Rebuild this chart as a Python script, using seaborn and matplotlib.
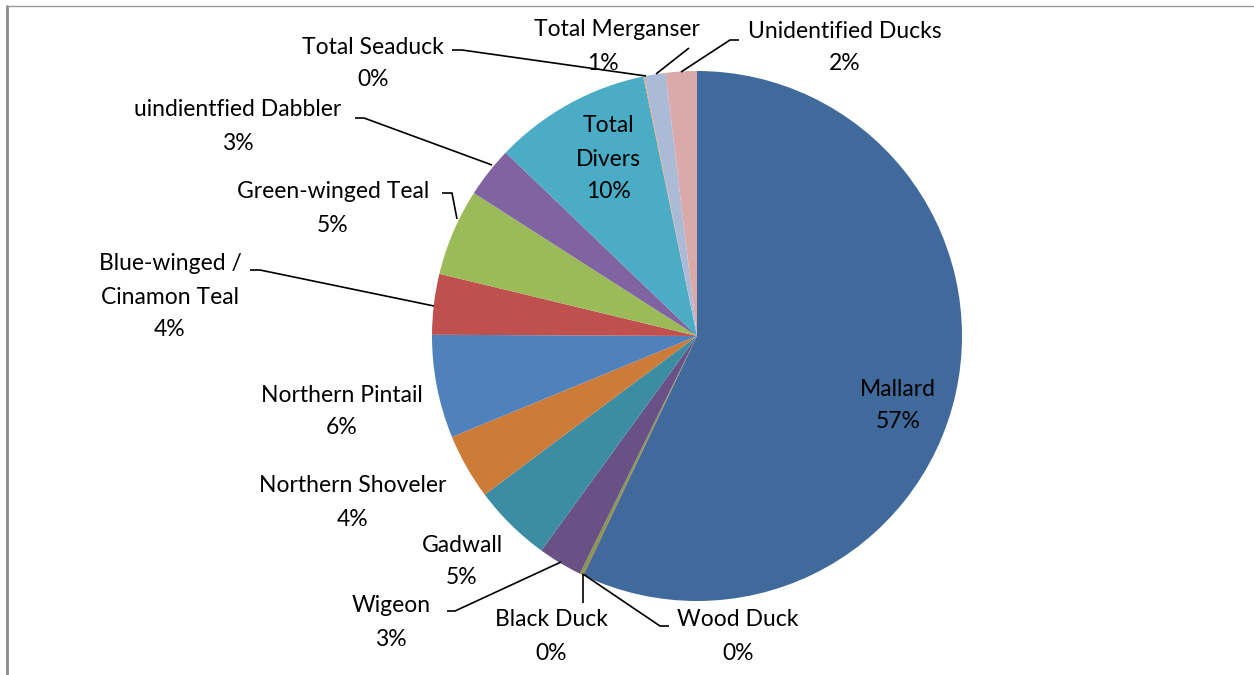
import matplotlib
matplotlib.use("Agg")
import matplotlib.pyplot as plt
import seaborn as sns

sns.set_style("white")
plt.rcParams['font.family'] = ['Lato', 'DejaVu Sans']

# ---- data ----
species = ["Mallard", "Wood Duck", "Black Duck", "Wigeon", "Gadwall",
           "Northern Shoveler", "Northern Pintail", "Blue-winged /\nCinamon Teal",
           "Green-winged Teal", "uindientfied Dabbler", "Total\nDivers",
           "Total Seaduck", "Total Merganser", "Unidentified Ducks"]
shares = [57.1, 0.05, 0.2, 2.7, 4.8, 4.0, 6.3, 3.7, 5.3, 3.1, 9.6, 0.05, 1.3, 1.9]
colors = ["#406A9C", "#9E413E", "#7F9A48", "#695185", "#3C8DA3", "#CC7B38",
          "#4F81BD", "#C0504D", "#9BBB59", "#8064A2", "#4BACC6", "#F79646",
          "#AABAD7", "#D9AAA9"]

# ---- layout (pixel coordinates, y downward) ----
W, H = 1254, 675
CX, CY, R = 697, 336, 265
label_pos = {
    "Mallard": (898, 389),
    "Wood Duck": (738, 620),
    "Black Duck": (551, 620),
    "Wigeon": (391, 606),
    "Gadwall": (462, 545),
    "Northern Shoveler": (353, 486),
    "Northern Pintail": (342, 395),
    "Blue-winged /\nCinamon Teal": (170, 264),
    "Green-winged Teal": (333, 192),
    "uindientfied Dabbler": (238, 110),
    "Total\nDivers": (608, 126),
    "Total Seaduck": (373, 47),
    "Total Merganser": (617, 30),
    "Unidentified Ducks": (845, 31),
}
pct_pos_override = {"Total Merganser": (603, 64)}
leaders = {
    "Total Seaduck": [(452, 50), (462, 50), (646, 76)],
    "Total Merganser": [(689, 48), (656, 74)],
    "Unidentified Ducks": [(739, 40), (730, 40), (681, 72)],
    "uindientfied Dabbler": [(355, 118), (364, 118), (492, 165)],
    "Green-winged Teal": [(442, 193), (452, 193), (457, 219)],
    "Blue-winged /\nCinamon Teal": [(250, 270), (260, 270), (434, 306)],
    "Wigeon": [(447, 611), (455, 611), (561, 562)],
    "Black Duck": [(583, 574), (583, 603)],
    "Wood Duck": [(583, 574), (660, 626), (669, 626)],
}
LINE = 33

fig = plt.figure(figsize=(W / 100, H / 100), dpi=100)
ax = fig.add_axes([0, 0, 1, 1])

ax.pie(shares, colors=colors, startangle=90, counterclock=False,
       center=(CX, H - CY), radius=R, frame=True,
       wedgeprops=dict(linewidth=0))
ax.set_xlim(0, W)
ax.set_ylim(0, H)
ax.set_aspect("equal")
ax.axis("off")

total = sum(shares)
fs = 16.5
for name, v in zip(species, shares):
    x, y = label_pos[name]
    lines = name.split("\n")
    for i, ln in enumerate(lines):
        ax.text(x, H - (y + i * LINE), ln, ha="center", va="center",
                fontsize=fs, color="black")
    pct = f"{int(v / total * 100 + 0.5)}%"
    px, py = pct_pos_override.get(name, (x, y + len(lines) * LINE))
    ax.text(px, H - py, pct, ha="center", va="center", fontsize=fs,
            color="black")

for name, pts in leaders.items():
    xs = [p[0] for p in pts]
    ys = [H - p[1] for p in pts]
    ax.plot(xs, ys, color="black", linewidth=1.2, solid_capstyle="butt")

# chart frame
ax.plot([7, 7], [-5, H - 6], color="#8c8c8c", linewidth=2.0)
ax.plot([6, W + 5], [H - 6, H - 6], color="#9a9a9a", linewidth=1.0)

fig.savefig("out.png", dpi=100)
